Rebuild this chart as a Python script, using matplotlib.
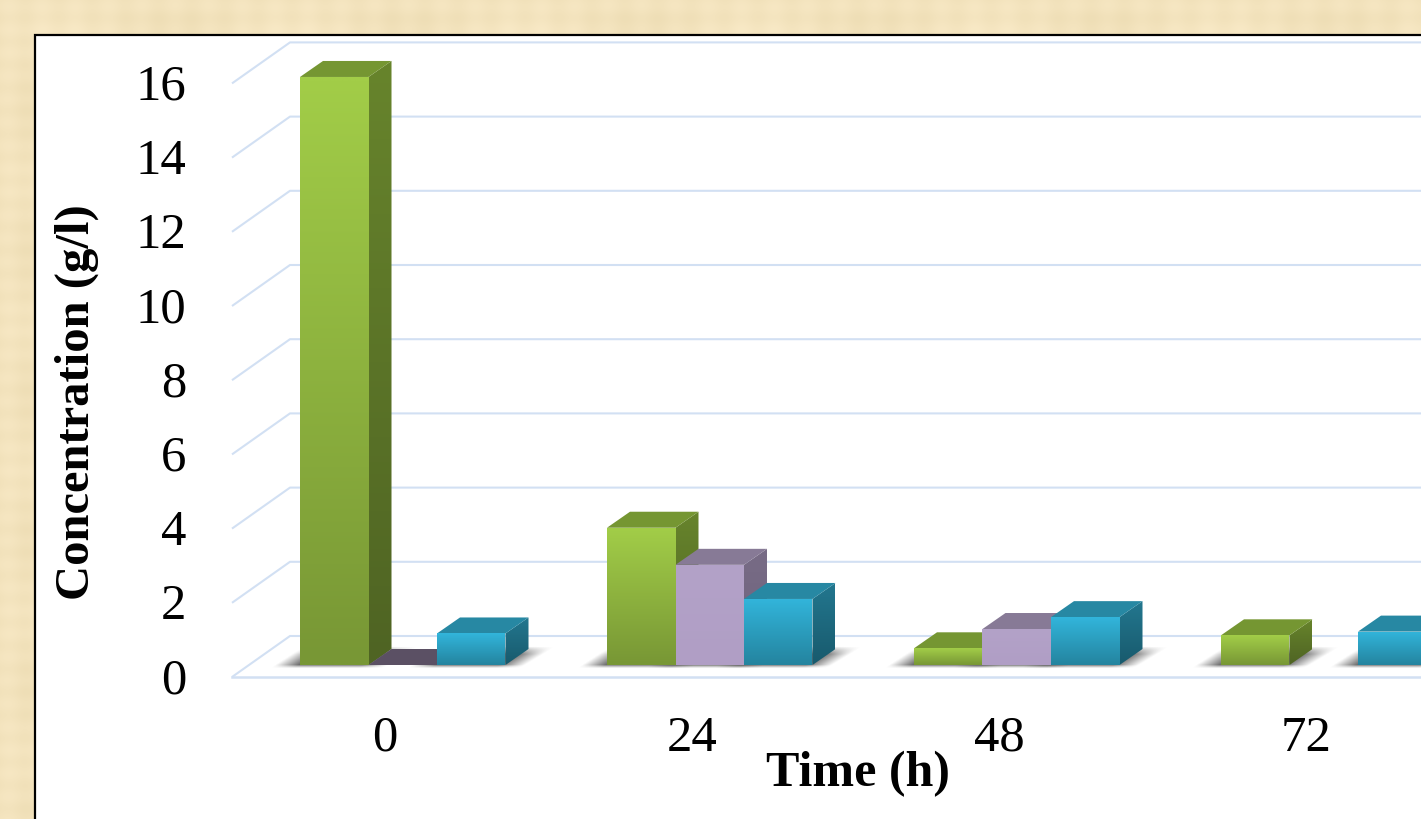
import numpy as np
import matplotlib
matplotlib.use("Agg")
import matplotlib.pyplot as plt
from matplotlib.patches import Polygon, Rectangle
from matplotlib.colors import to_rgb
from matplotlib.transforms import ScaledTranslation

# ---- data ----
categories = ["0", "24", "48", "72"]
green_values = [15.85, 3.7, 0.45, 0.8]
purple_values = [0.0, 2.7, 0.97, np.nan]
blue_values = [0.85, 1.78, 1.29, 0.9]
y_ticks = [0, 2, 4, 6, 8, 10, 12, 14, 16]
y_label = "Concentration (g/l)"
x_label = "Time (h)"

W, H = 1421, 819
LEFT, BOTTOM, TOP = 232, 677, 83.4   # plot box, pixels from top-left
CAT_PX = 307.0
UNIT_PX = (BOTTOM - TOP) / 16.0
FIRST_CENTER_PX = 385.0
BAR_W_PX, BAR_LEFT_OFF, BASE_LIFT = 68.5, -85.0, 12.0
DEPTH_X, DEPTH_Y = 23.0, 16.0
WALL_X, WALL_Y = 58.0, 41.0

plt.rcParams["font.family"] = ["Liberation Serif", "DejaVu Serif"]
fig = plt.figure(figsize=(W / 100, H / 100), dpi=100, facecolor="#F3E3BC")

# textile-like background + white panel
xx, yy = np.meshgrid(np.arange(W), np.arange(H))
tex = (np.sin(xx / 37.0) * np.sin(yy / 23.0) + 0.6 * np.sin(xx / 5.3) + 0.5 * np.sin(yy / 3.7)) * 2.5
bg = np.dstack([243 + tex, 227 + tex * 1.1, 189 + tex * 1.6]).clip(0, 255).astype(np.uint8)
fig.figimage(bg, 0, 0, zorder=0)
fig.add_artist(Rectangle((35 / W, -0.01), 1.01, 1 - 35 / H + 0.01, transform=fig.transFigure,
                         facecolor="white", edgecolor="black", linewidth=1.6, zorder=1))

ax = fig.add_axes([LEFT / W, 1 - BOTTOM / H, (W - LEFT) / W, (BOTTOM - TOP) / H], zorder=2)
ax.patch.set_alpha(0)
xlim = ((LEFT - FIRST_CENTER_PX) / CAT_PX, (W - FIRST_CENTER_PX) / CAT_PX)
ax.set_xlim(*xlim)
ax.set_ylim(0, 16)
for s in ax.spines.values():
    s.set_visible(False)


def dx(px):
    return px / CAT_PX


def dy(px):
    return px / UNIT_PX


# grid: side wall + back wall
grid_c = "#D2E0F3"
for t in y_ticks:
    ax.plot([xlim[0], xlim[0] + dx(WALL_X), xlim[1]], [t, t + dy(WALL_Y), t + dy(WALL_Y)],
            color=grid_c, lw=1.5, clip_on=False, zorder=1, solid_capstyle="butt")
ax.plot([xlim[0], xlim[1]], [0, 0], color=grid_c, lw=1.8, clip_on=False, zorder=1)


def gradient_poly(pts, top_c, bot_c, z):
    pts = np.array(pts)
    patch = Polygon(pts, closed=True, transform=ax.transData, facecolor="none", edgecolor="none")
    ax.add_patch(patch)
    patch.set_clip_on(False)
    t, b = np.array(to_rgb(top_c)), np.array(to_rgb(bot_c))
    f = np.linspace(0, 1, 64)[:, None, None]
    img = t[None, None, :] * (1 - f) + b[None, None, :] * f
    im = ax.imshow(img, extent=[pts[:, 0].min(), pts[:, 0].max(), pts[:, 1].min(), pts[:, 1].max()],
                   origin="upper", aspect="auto", zorder=z, interpolation="bilinear")
    im.set_clip_box(fig.bbox)
    im.set_clip_path(patch)
    return im


def shadow(x0, x1, z):
    """soft floor shadow under a bar; x0, x1 in category units"""
    L = x0 * CAT_PX
    R = x1 * CAT_PX
    us = np.arange(L - 36, R + 70, 1.0)
    vs = np.arange(-4, 20, 1.0)
    U, V = np.meshgrid(us, vs)
    left = np.clip((U - (L - 28 + 1.5 * (V + 2))) / 24.0, 0, 1)
    right = np.clip(((R + 20 + 1.6 * V) - U) / 25.0, 0, 1)
    vert = np.clip((V + 4) / 4.0, 0, 1) ** 1.5 * np.clip((19 - V) / 8.0, 0, 1)
    a = left * right * vert * 0.85
    rgba = np.zeros(a.shape + (4,))
    rgba[..., :3] = 0.33
    rgba[..., 3] = a
    base = dy(BASE_LIFT)
    ax.imshow(rgba, extent=[us[0] / CAT_PX, us[-1] / CAT_PX, base + dy(vs[0]), base + dy(vs[-1])],
              origin="lower", aspect="auto", zorder=z, clip_on=False, interpolation="bilinear")


styles = [
    dict(front=("#A2CD48", "#789735"), top="#759632", side=("#67842C", "#4F6423"), flat="#759632"),
    dict(front=("#B3A2C8", "#B09EC5"), top="#877A96", side=("#786C86", "#6E627C"), flat="#5B5064"),
    dict(front=("#32B5DB", "#24849F"), top="#2788A3", side=("#23778F", "#185A6D"), flat="#2788A3"),
]
series = [green_values, purple_values, blue_values]
w = dx(BAR_W_PX)
base = dy(BASE_LIFT)

for c in range(len(categories)):
    for s in range(len(series)):
        if np.isfinite(series[s][c]) and series[s][c] > 0:
            x0 = c + dx(BAR_LEFT_OFF) + s * w
            shadow(x0, x0 + w, 2)
z = 3
for c in range(len(categories)):
    for s, vals in enumerate(series):
        v = vals[c]
        if not np.isfinite(v):
            continue
        st = styles[s]
        x0 = c + dx(BAR_LEFT_OFF) + s * w
        x1 = x0 + w
        y0, y1 = base, base + v
        ddx, ddy = dx(DEPTH_X), dy(DEPTH_Y)
        if v > 0:
            gradient_poly([(x1, y0), (x1 + ddx, y0 + ddy), (x1 + ddx, y1 + ddy), (x1, y1)], *st["side"], z)
        ax.add_patch(Polygon([(x0, y1), (x1, y1), (x1 + ddx, y1 + ddy), (x0 + ddx, y1 + ddy)], closed=True,
                             facecolor=st["top"] if v > 0 else st["flat"], edgecolor="none",
                             clip_on=False, zorder=z + 0.1))
        if v > 0:
            gradient_poly([(x0, y0), (x1, y0), (x1, y1), (x0, y1)], *st["front"], z + 0.2)
        z += 1

ax.set_xlim(*xlim)
ax.set_ylim(0, 16)
ax.set_yticks(y_ticks)
ax.set_yticklabels([str(t) for t in y_ticks], fontsize=36.5)
ax.set_xticks(range(len(categories)))
ax.set_xticklabels(categories, fontsize=36.5)
ax.tick_params(axis="y", length=0, pad=33)
ax.tick_params(axis="x", length=0, pad=27.5)
for lab in ax.get_yticklabels():
    lab.set_transform(lab.get_transform() + ScaledTranslation(0, 1.5 / 100, fig.dpi_scale_trans))
ax.set_xlabel(x_label, fontsize=36, fontweight="bold")
ax.xaxis.set_label_coords((858 - LEFT) / (W - LEFT), (BOTTOM - 774) / (BOTTOM - TOP), transform=ax.transAxes)
ax.xaxis.label.set_verticalalignment("center")
ax.set_ylabel(y_label, fontsize=35, fontweight="bold")
ax.yaxis.set_label_coords((77 - LEFT) / (W - LEFT), (BOTTOM - 402) / (BOTTOM - TOP), transform=ax.transAxes)
ax.yaxis.label.set_verticalalignment("center")

fig.savefig("out.png", dpi=100)
